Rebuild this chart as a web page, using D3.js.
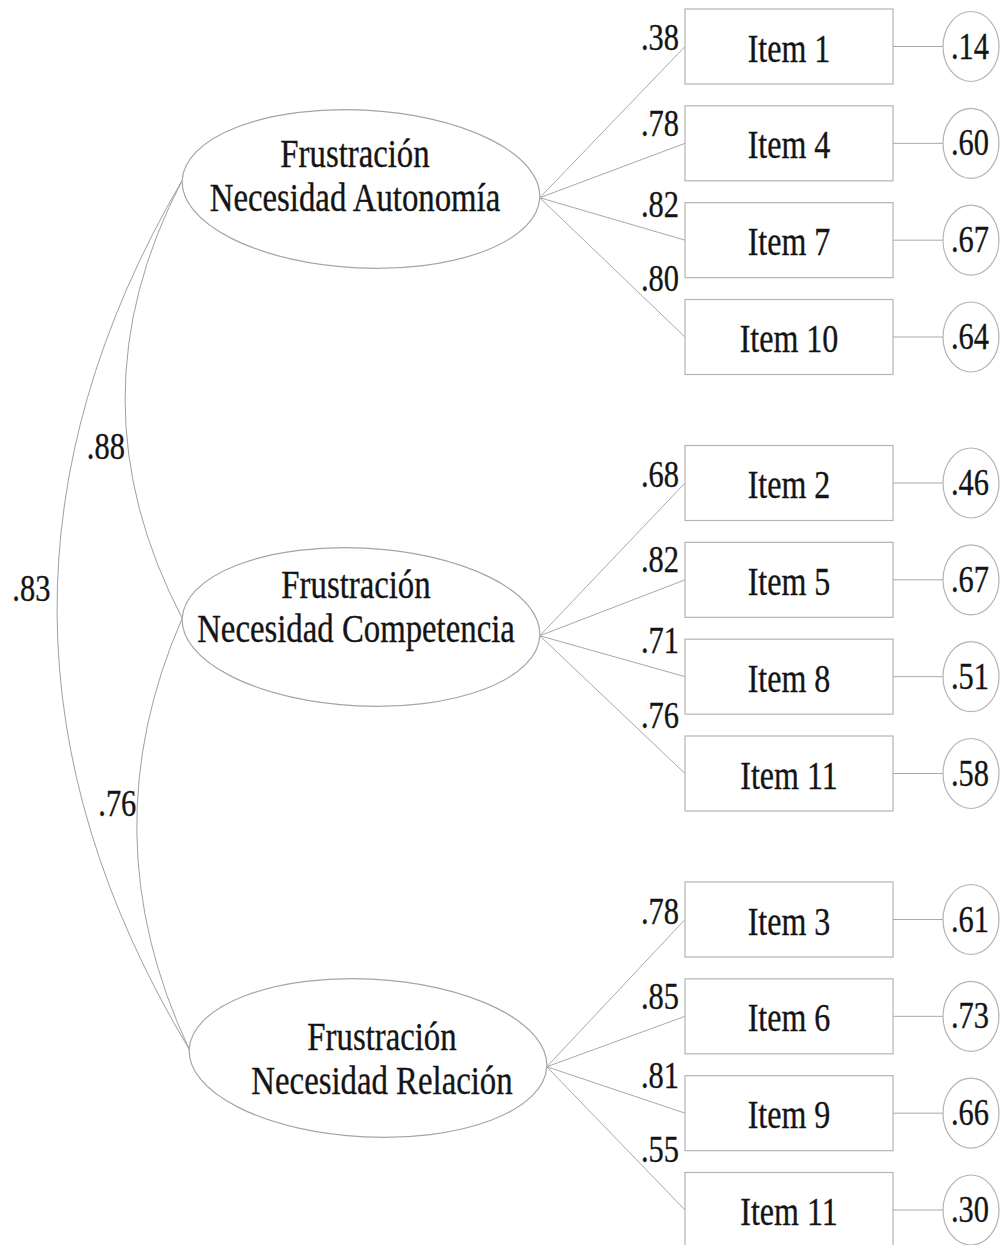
<!DOCTYPE html>
<html>
<head>
<meta charset="utf-8">
<script src="https://cdn.jsdelivr.net/npm/d3@7"></script>
<style>
  html, body { margin: 0; padding: 0; background: #fff; }
  svg { display: block; }
</style>
</head>
<body>
<svg id="chart" width="1000" height="1245"></svg>
<script>
// ---------------- data ----------------
const latentLines = [
  ["Frustración", "Necesidad Autonomía"],
  ["Frustración", "Necesidad Competencia"],
  ["Frustración", "Necesidad Relación"]
];
const itemNames = [
  ["Item 1", "Item 4", "Item 7", "Item 10"],
  ["Item 2", "Item 5", "Item 8", "Item 11"],
  ["Item 3", "Item 6", "Item 9", "Item 11"]
];
const loadings = [
  [0.38, 0.78, 0.82, 0.80],
  [0.68, 0.82, 0.71, 0.76],
  [0.78, 0.85, 0.81, 0.55]
];
const errorValues = [
  [0.14, 0.60, 0.67, 0.64],
  [0.46, 0.67, 0.51, 0.58],
  [0.61, 0.73, 0.66, 0.30]
];
const corrFrom = [0, 1, 0];
const corrTo = [1, 2, 2];
const corrValues = [0.88, 0.76, 0.83];

// ---------------- layout ----------------
const FONT = "'Liberation Serif', Tinos, 'Times New Roman', Times, 'DejaVu Serif', serif";
const SX = 0.8;                       // horizontal squeeze of the original figure
const latentCx = [361, 361, 368];
const latentCy = [189, 627, 1058];
const latentRx = 179, latentRy = 79, latentRot = 2.8;
const latentTextX = [355, 356, 382];
const latentTextY = [[167, 211], [598, 642], [1050, 1094]];
const boxLeft = 685, boxW = 208, boxH = 75;
const errCx = 971, errRx = 28, errRy = 35;
const corrCtrlX = [68, 88, -71.5];
const corrLabelT = [0.61, 0.43, 0.47];
const corrLabelDx = [-3, -1, -7];

const groupScale = d3.scaleLinear().domain([0, 2]).range([9, 882]);
const itemScale = d3.scaleLinear().domain([0, 3]).range([0, 290.5]);
const fmt = v => d3.format(".2f")(v).replace(/^0/, "");

const svg = d3.select("#chart");
const lineColor = "#a9a9a9";
const boxColor = "#b4b4b4";

const rad = latentRot * Math.PI / 180;
const rightTip = i => [latentCx[i] + latentRx * Math.cos(rad), latentCy[i] + latentRx * Math.sin(rad)];
const leftTip = i => [latentCx[i] - latentRx * Math.cos(rad), latentCy[i] - latentRx * Math.sin(rad)];

function sText(sel, x, y, str, size, anchor) {
  return sel.append("text")
    .attr("transform", `translate(${x},${y}) scale(${SX},1)`)
    .attr("text-anchor", anchor)
    .attr("font-family", FONT)
    .attr("font-size", size)
    .attr("fill", "#141414")
    .attr("stroke", "#141414")
    .attr("stroke-width", 0.35)
    .text(str);
}

// ---------------- covariance curves ----------------
const corrG = svg.append("g");
corrValues.forEach((v, c) => {
  const p0 = leftTip(corrFrom[c]);
  const p2 = leftTip(corrTo[c]);
  const ctrl = [corrCtrlX[c], (p0[1] + p2[1]) / 2];
  const path = d3.path();
  path.moveTo(p0[0], p0[1]);
  path.quadraticCurveTo(ctrl[0], ctrl[1], p2[0], p2[1]);
  corrG.append("path").attr("d", path.toString())
    .attr("fill", "none").attr("stroke", "#9f9f9f").attr("stroke-width", 1);
  const t = corrLabelT[c];
  const x = (1 - t) * (1 - t) * p0[0] + 2 * t * (1 - t) * ctrl[0] + t * t * p2[0];
  const y = (1 - t) * (1 - t) * p0[1] + 2 * t * (1 - t) * ctrl[1] + t * t * p2[1];
  sText(corrG, x + corrLabelDx[c], y + 12, fmt(v), 38, "end");
});

// ---------------- items, loadings, errors ----------------
itemNames.forEach((group, g) => {
  const [ox, oy] = rightTip(g);
  const gG = svg.append("g");
  group.forEach((name, k) => {
    const top = groupScale(g) + itemScale(k);
    const mid = top + boxH / 2;
    gG.append("line")
      .attr("x1", ox).attr("y1", oy).attr("x2", boxLeft).attr("y2", mid)
      .attr("stroke", lineColor).attr("stroke-width", 1);
    const slope = (mid - oy) / (boxLeft - ox);
    const lx = 660;
    const ly = oy + slope * (lx - ox);
    sText(gG, 679, ly - (14 + 8 * Math.abs(slope)), fmt(loadings[g][k]), 38, "end");
    gG.append("rect")
      .attr("x", boxLeft).attr("y", top).attr("width", boxW).attr("height", boxH)
      .attr("fill", "#fff").attr("stroke", boxColor).attr("stroke-width", 1.2);
    sText(gG, boxLeft + boxW / 2, mid + 15, name, 40, "middle");
    gG.append("line")
      .attr("x1", boxLeft + boxW).attr("y1", mid).attr("x2", errCx - errRx).attr("y2", mid)
      .attr("stroke", lineColor).attr("stroke-width", 1);
    gG.append("ellipse")
      .attr("cx", errCx).attr("cy", mid).attr("rx", errRx).attr("ry", errRy)
      .attr("fill", "#fff").attr("stroke", boxColor).attr("stroke-width", 1.2);
    sText(gG, errCx - 1, mid + 12, fmt(errorValues[g][k]), 38, "middle");
  });
});

// ---------------- latent ellipses ----------------
latentLines.forEach((lines, i) => {
  const lg = svg.append("g");
  lg.append("ellipse")
    .attr("cx", latentCx[i]).attr("cy", latentCy[i])
    .attr("rx", latentRx).attr("ry", latentRy)
    .attr("transform", `rotate(${latentRot},${latentCx[i]},${latentCy[i]})`)
    .attr("fill", "#fff").attr("stroke", "#a5a5a5").attr("stroke-width", 1.2);
  lines.forEach((ln, j) => {
    sText(lg, latentTextX[i], latentTextY[i][j], ln, 41, "middle");
  });
});
</script>
</body>
</html>
